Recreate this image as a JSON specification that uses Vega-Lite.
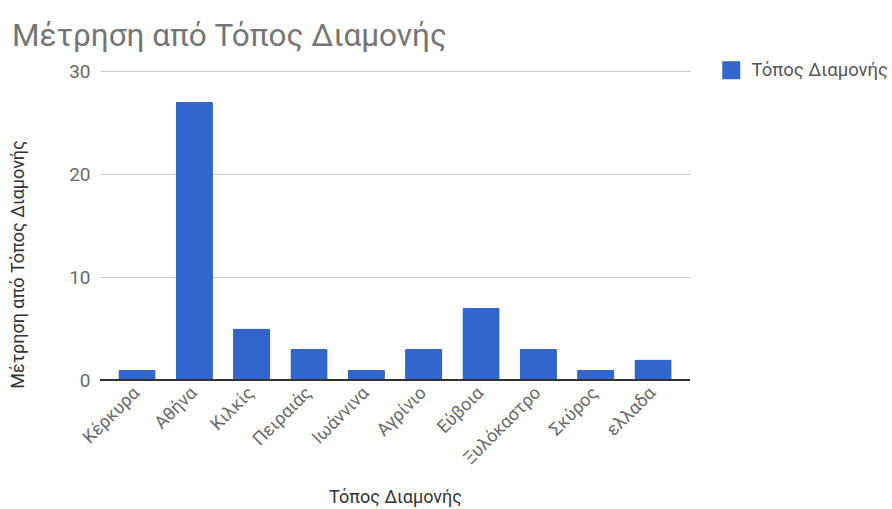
{
  "$schema": "https://vega.github.io/schema/vega-lite/v6.json",
  "width": 590,
  "height": 309,
  "autosize": "none",
  "padding": {"left": 100, "top": 71, "right": 202, "bottom": 129},
  "background": "white",
  "config": {
    "font": "Roboto",
    "view": {"stroke": null},
    "axis": {"labelFont": "Roboto", "titleFont": "Roboto"}
  },
  "title": {
    "text": "Μέτρηση από Τόπος Διαμονής",
    "anchor": "start",
    "frame": "group",
    "dx": -88,
    "dy": -5,
    "fontSize": 31.5,
    "fontWeight": "normal",
    "color": "#757575",
    "font": "Roboto"
  },
  "data": {
    "values": [
      {"place": "Κέρκυρα", "count": 1},
      {"place": "Αθήνα", "count": 27},
      {"place": "Κιλκίς", "count": 5},
      {"place": "Πειραιάς", "count": 3},
      {"place": "Ιωάννινα", "count": 1},
      {"place": "Αγρίνιο", "count": 3},
      {"place": "Εύβοια", "count": 7},
      {"place": "Ξυλόκαστρο", "count": 3},
      {"place": "Σκύρος", "count": 1},
      {"place": "ελλαδα", "count": 2}
    ]
  },
  "layer": [
    {
      "mark": {"type": "bar", "cornerRadius": 1.5},
      "encoding": {
        "x": {
          "field": "place",
          "type": "nominal",
          "sort": null,
          "scale": {"paddingInner": 0.35, "paddingOuter": 0.32},
          "axis": {
            "title": "Τόπος Διαμονής",
            "titleFontSize": 18,
            "titleFontWeight": "normal",
            "titleColor": "#333333",
            "titleY": 117,
            "titleBaseline": "middle",
            "labelAngle": -45,
            "labelAlign": "right",
            "labelBaseline": "middle",
            "labelFontSize": 18,
            "labelColor": "#6a6a6a",
            "labelPadding": 10,
            "labelDx": 14,
            "ticks": false,
            "domain": false,
            "grid": false
          }
        },
        "y": {
          "field": "count",
          "type": "quantitative",
          "scale": {"domain": [0, 30]},
          "axis": {
            "title": "Μέτρηση από Τόπος Διαμονής",
            "titleFontSize": 18,
            "titleFontWeight": "normal",
            "titleColor": "#333333",
            "titleX": -82,
            "titleY": 193,
            "titleAlign": "center",
            "titleBaseline": "middle",
            "values": [0, 10, 20, 30],
            "labelFontSize": 19,
            "labelColor": "#6a6a6a",
            "labelPadding": 10,
            "ticks": false,
            "domain": false,
            "gridColor": "#cccccc",
            "gridWidth": 1
          }
        },
        "color": {
          "datum": "Τόπος Διαμονής",
          "type": "nominal",
          "scale": {"range": ["#3366cc"]},
          "legend": {
            "title": null,
            "orient": "none",
            "legendX": 622,
            "legendY": -10,
            "symbolType": "square",
            "symbolSize": 324,
            "symbolStrokeWidth": 0,
            "symbolOpacity": 1,
            "labelFontSize": 18.5,
            "labelColor": "#555555",
            "labelFont": "Roboto",
            "labelOffset": 11
          }
        }
      }
    },
    {
      "mark": {"type": "rule", "color": "#333333", "strokeWidth": 1},
      "encoding": {
        "y": {"datum": 0, "type": "quantitative"}
      }
    }
  ]
}
